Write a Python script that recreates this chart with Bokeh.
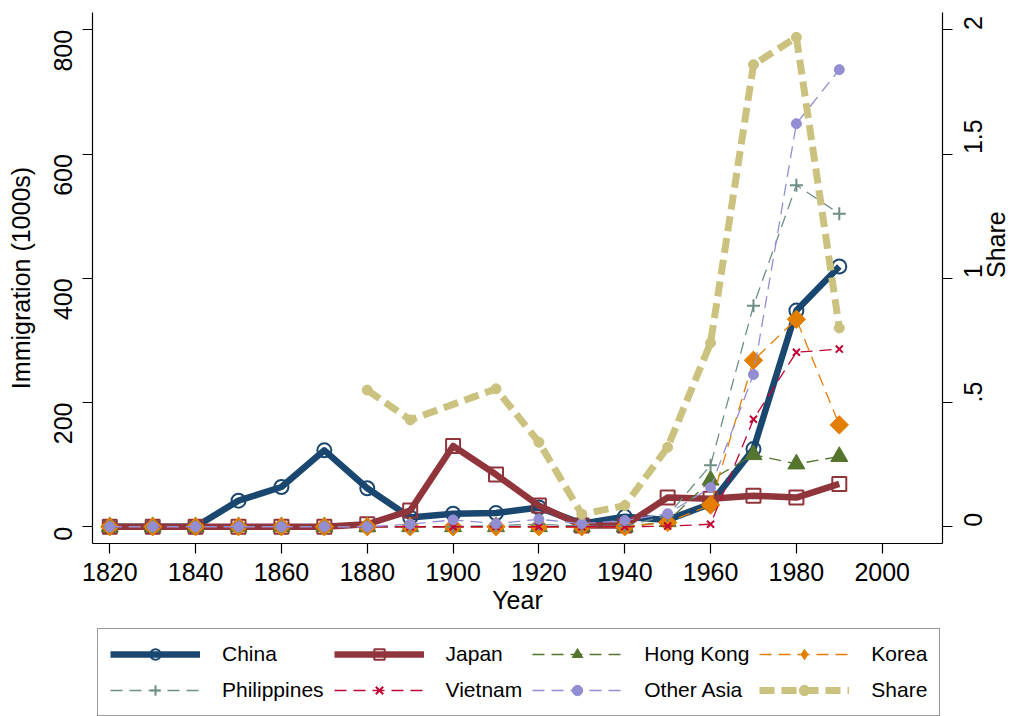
import math
from bokeh.plotting import figure
from bokeh.layouts import column
from bokeh.models import Range1d, LinearAxis, FixedTicker, Legend, LegendItem
from bokeh.embed import file_html
from bokeh.resources import INLINE

# ---- data ----
years = [1820, 1830, 1840, 1850, 1860, 1870, 1880, 1890, 1900,
         1910, 1920, 1930, 1940, 1950, 1960, 1970, 1980, 1990]
china = [0, 0, 0, 42, 64, 123, 62, 15, 21, 22, 31, 5, 16, 11, 37, 125, 348, 419]
japan = [0, 0, 0, 0, 0, 0, 4, 26, 130, 84, 34, 2, 2, 47, 45, 50, 47, 69]
hong_kong = [0, 0, 0, 0, 0, 0, 0, 0, 0, 0, 0, 0, 0, 8, 75, 116, 101, 113]
korea = [0, 0, 0, 0, 0, 0, 0, 0, 0, 0, 0, 0, 0, 7, 35, 268, 334, 164]
philippines = [0, 0, 0, 0, 0, 0, 0, 0, 0, 2, 4, 1, 1, 18, 99, 356, 550, 504]
vietnam = [0, 0, 0, 0, 0, 0, 0, 0, 0, 0, 0, 0, 0, 1, 4, 173, 281, 286]
other_asia = [0, 0, 0, 0, 0, 0, 0, 4, 11, 5, 12, 5, 10, 21, 63, 245, 649, 736]
share_years = [1880, 1890, 1910, 1920, 1930, 1940, 1950, 1960, 1970, 1980, 1990]
share = [0.55, 0.43, 0.555, 0.34, 0.05, 0.085, 0.32, 0.74, 1.86, 1.97, 0.80]

x_ticks = [1820, 1840, 1860, 1880, 1900, 1920, 1940, 1960, 1980, 2000]
left_ticks = [0, 200, 400, 600, 800]
right_ticks = [0, 0.5, 1, 1.5, 2]
right_tick_labels = ["0", ".5", "1", "1.5", "2"]

FONT = "Liberation Sans"
NAVY, MAROON, FOREST, DKORANGE = "#1a476f", "#90353b", "#55752f", "#e37e00"
TEAL, CRANBERRY, LAVENDER, KHAKI = "#6e8e84", "#c10534", "#938dd2", "#cac27e"

Y0, Y1 = -27, 828
p = figure(frame_width=850, frame_height=531, output_backend="svg",
           toolbar_location=None,
           x_range=Range1d(1815.97, 2014.05), y_range=Range1d(Y0, Y1),
           min_border_left=92, min_border_right=71, min_border_top=12,
           min_border_bottom=84)
p.outline_line_color = None
p.xgrid.visible = False
p.ygrid.visible = False
p.background_fill_color = "white"
p.border_fill_color = "white"
p.extra_y_ranges = {"share": Range1d(Y0 / 400, Y1 / 400)}


def style_axis(ax):
    ax.axis_line_color = "black"
    ax.axis_line_width = 1.2
    ax.major_tick_line_color = "black"
    ax.major_tick_line_width = 1.2
    ax.major_tick_out = 10
    ax.major_tick_in = 0
    ax.minor_tick_out = 0
    ax.minor_tick_in = 0
    ax.major_label_text_font = FONT
    ax.major_label_text_font_size = "25px"
    ax.major_label_text_color = "black"
    ax.axis_label_text_font = FONT
    ax.axis_label_text_font_size = "25px"
    ax.axis_label_text_font_style = "normal"
    ax.axis_label_text_color = "black"


xa = p.xaxis[0]
style_axis(xa)
xa.ticker = FixedTicker(ticks=x_ticks)
xa.axis_label = "Year"
xa.major_label_standoff = 9
xa.axis_label_standoff = 2

ya = p.yaxis[0]
style_axis(ya)
ya.ticker = FixedTicker(ticks=left_ticks)
ya.axis_label = "Immigration (1000s)"
ya.major_label_orientation = math.pi / 2
ya.major_label_standoff = 19
ya.axis_label_standoff = 8

ra = LinearAxis(y_range_name="share", ticker=FixedTicker(ticks=right_ticks),
                major_label_overrides=dict(zip(right_ticks, right_tick_labels)))
style_axis(ra)
ra.axis_label = "Share"
ra.major_label_orientation = math.pi / 2
ra.major_label_standoff = 21
ra.axis_label_standoff = 1
try:
    ra.axis_label_orientation = math.pi / 2
except Exception:
    pass
p.add_layout(ra, "right")

# legend strip below the chart; its frame is aligned with the chart's frame.
# Its proxy renderers reuse the series but lie outside its (0..1) ranges.
p2 = figure(frame_width=850, frame_height=89, output_backend="svg",
            toolbar_location=None, x_axis_type=None, y_axis_type=None,
            min_border_left=92, min_border_right=71, min_border_top=0,
            min_border_bottom=0, x_range=Range1d(0, 1), y_range=Range1d(0, 1))
p2.outline_line_color = None
p2.background_fill_color = "white"
p2.border_fill_color = "white"

items = []


def series(label, xs, ys, line_kw, marker_kw, legend_marker_kw=None, **extra):
    p.line(xs, ys, **line_kw, **extra)
    p.scatter(xs, ys, **marker_kw, **extra)
    lk = dict(marker_kw)
    lk.pop("angle", None)
    if legend_marker_kw:
        lk.update(legend_marker_kw)
    pl = p2.line(xs, ys, **line_kw)
    ps = p2.scatter(xs, ys, **lk)
    items.append(LegendItem(label=label, renderers=[pl, ps]))


series("China", years, china,
       dict(line_color=NAVY, line_width=6.5, line_join="round"),
       dict(marker="circle", size=14, fill_color=None, line_color=NAVY, line_width=2))
series("Japan", years, japan,
       dict(line_color=MAROON, line_width=6.5, line_join="round"),
       dict(marker="square", size=14, fill_color=None, line_color=MAROON, line_width=2))
series("Hong Kong", years, hong_kong,
       dict(line_color=FOREST, line_width=1.3, line_dash="12 7"),
       dict(marker="triangle", size=17, fill_color=FOREST, line_color=FOREST))
series("Korea", years, korea,
       dict(line_color=DKORANGE, line_width=1.3, line_dash="12 7"),
       dict(marker="square", size=13, angle=math.pi / 4, fill_color=DKORANGE,
            line_color=DKORANGE),
       legend_marker_kw=dict(marker="diamond", size=21))
series("Philippines", years, philippines,
       dict(line_color=TEAL, line_width=1.3, line_dash="12 7"),
       dict(marker="cross", size=13, line_color=TEAL, line_width=2))
series("Vietnam", years, vietnam,
       dict(line_color=CRANBERRY, line_width=1.3, line_dash="12 7"),
       dict(marker="x", size=10, line_color=CRANBERRY, line_width=2))
series("Other Asia", years, other_asia,
       dict(line_color=LAVENDER, line_width=1.3, line_dash="12 7"),
       dict(marker="circle", size=10, fill_color=LAVENDER, line_color=LAVENDER))
series("Share", share_years, share,
       dict(line_color=KHAKI, line_width=7, line_dash="15 7"),
       dict(marker="circle", size=10, fill_color=KHAKI, line_color=KHAKI),
       y_range_name="share")

legend = Legend(items=items, location=(5, 0), orientation="horizontal",
                ncols=4, glyph_width=90, glyph_height=26, label_height=26,
                label_standoff=22, spacing=10, padding=12, margin=0,
                border_line_color="#333333", border_line_width=1.5,
                background_fill_color="white", background_fill_alpha=1.0,
                label_text_font=FONT, label_text_font_size="21px",
                label_text_color="black")
p2.add_layout(legend, "center")

open("out.html", "w").write(file_html(column(p, p2, spacing=0), INLINE))
